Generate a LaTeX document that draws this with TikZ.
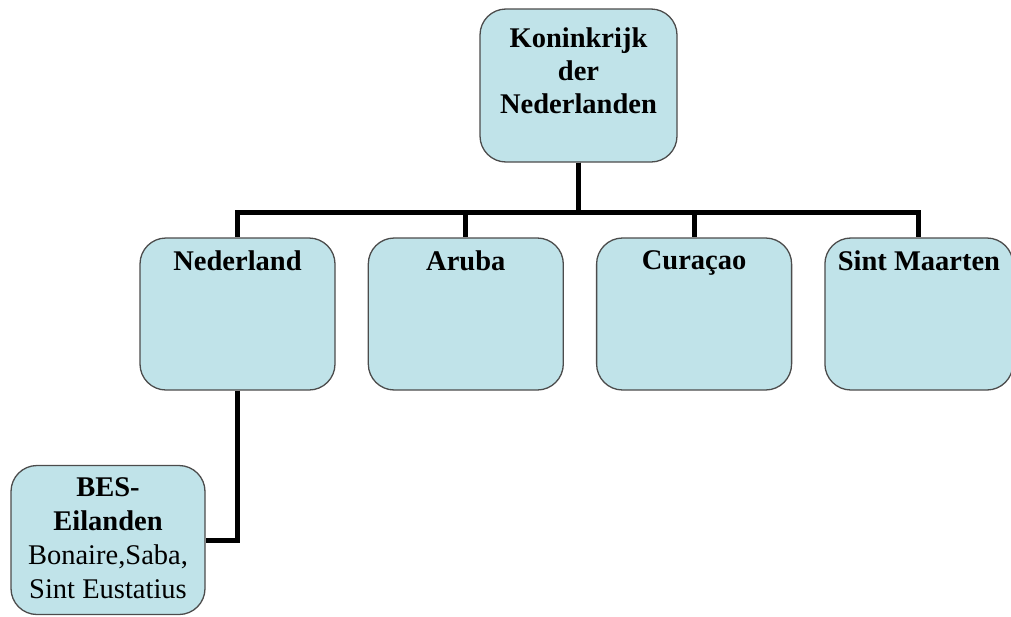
\documentclass[tikz,border=0pt]{standalone}
\usepackage{fontspec}
\setmainfont{Liberation Serif}
\usetikzlibrary{positioning}
\definecolor{boxBlue}{RGB}{192,227,233}

\begin{document}
\begin{tikzpicture}
[x=1pt,y=-1pt,
  boxDecorate/.style={shape=rectangle,rounded corners=26pt,draw=black!70,line width=1.3pt,
    fill=boxBlue,minimum width=195pt,minimum height=152pt,inner sep=0pt},
  textDecorate/.style={anchor=north,align=center,inner sep=0pt,yshift=-13pt,
    font=\fontsize{28.5}{33}\selectfont\bfseries},
  lineDecorate/.style={-,line width=5pt}]
\useasboundingbox (0,0) rectangle (1011,616);
%% boxes
\node (kon) at (578.5,85.5) [boxDecorate,minimum width=197pt,minimum height=153pt,
  label={[textDecorate,yshift=-6pt]north:Koninkrijk\\der\\Nederlanden}] {};
\node (ned) at (237.5,314) [boxDecorate,label={[textDecorate]north:Nederland}] {};
\node (aru) [boxDecorate,right=32pt of ned,label={[textDecorate]north:Aruba}] {};
\node (cur) [boxDecorate,right=32pt of aru,label={[textDecorate]north:Curaçao}] {};
\node (sxm) [boxDecorate,right=32pt of cur,minimum width=188pt,
  label={[textDecorate]north:Sint Maarten}] {};
\node (bes) at (108,540) [boxDecorate,minimum width=194pt,minimum height=149pt,
  label={[textDecorate,font=\fontsize{28.5}{34}\selectfont]north:\textbf{BES-}\\\textbf{Eilanden}\\Bonaire,Saba,\\Sint Eustatius}] {};
%% lines
\foreach \child in {ned,aru,cur,sxm}
{
  \draw[lineDecorate] (kon.south) -- ++(0,50) -| (\child.north);
}
\draw[lineDecorate] (ned.south) |- (bes.east);
\end{tikzpicture}
\end{document}
